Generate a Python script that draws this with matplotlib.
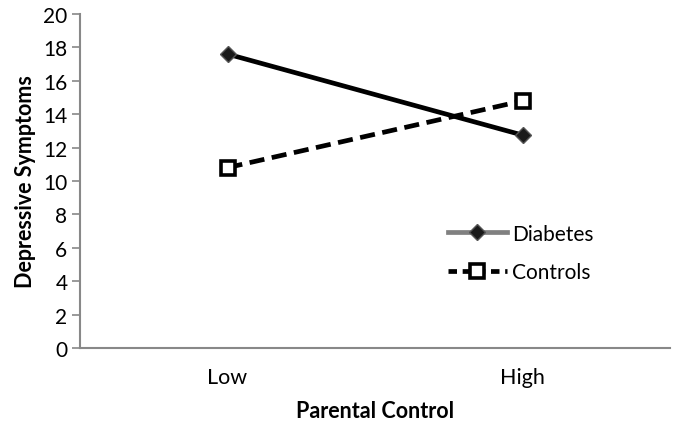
import matplotlib
matplotlib.use("Agg")
import matplotlib.pyplot as plt
from matplotlib.lines import Line2D

plt.rcParams['font.family'] = ['Lato', 'DejaVu Sans']

categories = ["Low", "High"]
diabetes = [17.6, 12.75]
controls = [10.8, 14.8]
y_ticks = list(range(0, 21, 2))

fig = plt.figure(figsize=(6.74, 4.27), dpi=100)
ax = fig.add_axes([80 / 674, 78 / 427, 590 / 674, 334 / 427])

x = [0.5, 1.5]
ax.plot(x, diabetes, color="black", linewidth=3.4, marker="D",
        markersize=8, markerfacecolor="#1a1a1a", markeredgecolor="#555555",
        markeredgewidth=1)
ax.plot(x, controls, color="black", linewidth=3.4, linestyle=(0, (3.2, 1.6)),
        marker="s", markersize=10, markerfacecolor="white",
        markeredgecolor="black", markeredgewidth=2.6)

ax.set_xlim(0, 2)
ax.set_ylim(0, 20)
ax.set_yticks(y_ticks)
ax.set_xticks(x)
ax.set_xticklabels(categories)
ax.tick_params(axis="x", length=0, pad=14, labelsize=15.5)
ax.tick_params(axis="y", length=6, color="#888888", width=1.2, labelsize=15,
               pad=3)

for side in ["top", "right"]:
    ax.spines[side].set_visible(False)
for side in ["left", "bottom"]:
    ax.spines[side].set_color("#888888")
    ax.spines[side].set_linewidth(1.5)

ax.set_xlabel("Parental Control", fontsize=15.5, fontweight="bold", labelpad=9)
ax.set_ylabel("Depressive Symptoms", fontsize=15.5, fontweight="bold", labelpad=5)

handles = [
    Line2D([], [], color="#808080", linewidth=3.4, marker="D", markersize=8,
           markerfacecolor="#1a1a1a", markeredgecolor="#555555"),
    Line2D([], [], color="black", linewidth=3.4, linestyle=(0, (1.8, 1.2)),
           marker="s", markersize=10, markerfacecolor="white",
           markeredgecolor="black", markeredgewidth=2.6),
]
fig.legend(handles, ["Diabetes", "Controls"], loc="center left",
           bbox_to_anchor=(429 / 674, 1 - 254 / 427), frameon=False,
           fontsize=15, handlelength=2.85, handletextpad=0.25, labelspacing=0.9)

fig.savefig("out.png", dpi=100)
